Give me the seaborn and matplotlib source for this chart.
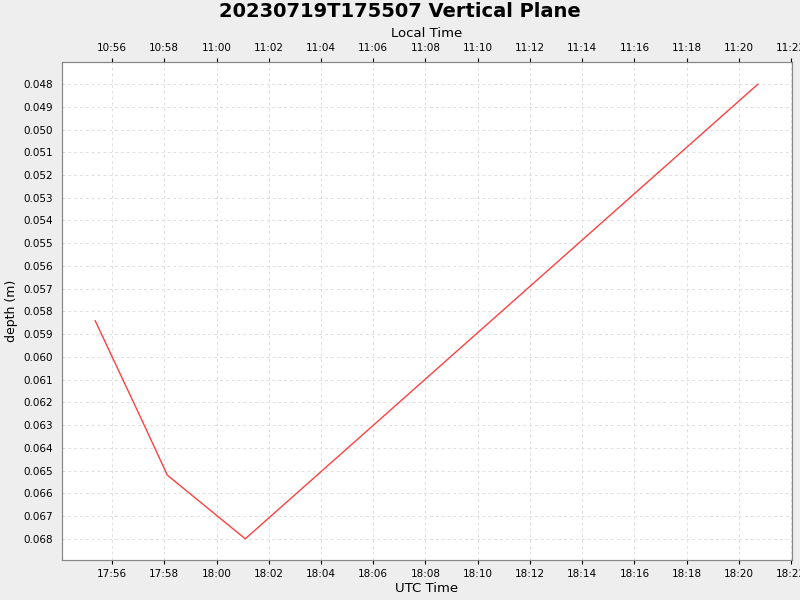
import matplotlib
matplotlib.use("Agg")
import matplotlib.pyplot as plt
import matplotlib.dates as mdates
import seaborn as sns
import pandas as pd
import numpy as np

times = ["2023-07-19 17:55:21", "2023-07-19 17:57:09", "2023-07-19 17:58:07",
         "2023-07-19 18:01:06", "2023-07-19 18:20:44"]
depths = [0.0584, 0.0628, 0.0652, 0.0680, 0.0480]

df = pd.DataFrame({"t": pd.to_datetime(times), "depth": depths})

sns.set_style("white")
plt.rcParams["text.color"] = "black"
plt.rcParams["axes.labelcolor"] = "black"
plt.rcParams["xtick.color"] = "black"
plt.rcParams["ytick.color"] = "black"
fig = plt.figure(figsize=(8, 6), dpi=100, facecolor="#eeeeee")
ax = fig.add_axes([0.0775, 0.0667, 0.9125, 0.83])
ax.set_facecolor("white")
sns.lineplot(data=df, x="t", y="depth", ax=ax, color="#ff4040", linewidth=1)

x0 = pd.Timestamp("2023-07-19 17:54:05"); x1 = pd.Timestamp("2023-07-19 18:22:02")
ax.set_xlim(x0, x1)
ax.set_ylim(0.06893, 0.04703)
ax.yaxis.set_major_locator(matplotlib.ticker.MultipleLocator(0.001))
ax.yaxis.set_major_formatter(matplotlib.ticker.FormatStrFormatter("%.3f"))
ax.xaxis.set_major_locator(mdates.MinuteLocator(byminute=range(0, 60, 2)))
ax.xaxis.set_major_formatter(mdates.DateFormatter("%H:%M"))
ax.grid(True, color="#e0e0e0", linestyle=(0, (3, 3)), linewidth=0.7)
ax.tick_params(labelsize=7.5, length=3, direction="out")
ax.set_xlabel("UTC Time", fontsize=9.5, labelpad=2)
ax.set_ylabel("depth (m)", fontsize=9)
for s in ax.spines.values():
    s.set_color("#888888")

ax2 = ax.twiny()
ax2.set_xlim(x0 - pd.Timedelta(hours=7), x1 - pd.Timedelta(hours=7))
ax2.xaxis.set_major_locator(mdates.MinuteLocator(byminute=range(0, 60, 2)))
ax2.xaxis.set_major_formatter(mdates.DateFormatter("%H:%M"))
ax2.tick_params(labelsize=7.5, length=3)
ax2.set_xlabel("Local Time", fontsize=9.5)
for s in ax2.spines.values():
    s.set_color("#888888")

fig.suptitle("20230719T175507 Vertical Plane", fontsize=14, fontweight="bold", y=0.997)
fig.savefig("out.png", dpi=100, facecolor=fig.get_facecolor())
